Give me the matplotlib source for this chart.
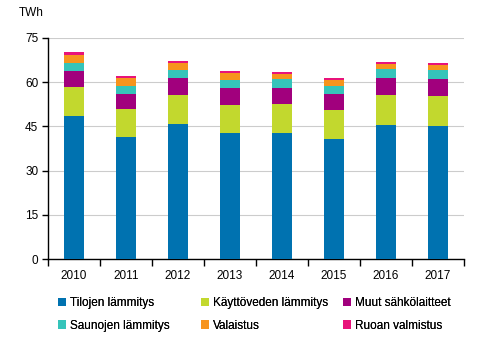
import numpy as np
import matplotlib.pyplot as plt

plt.rcParams['font.family'] = ['Liberation Sans', 'DejaVu Sans']

years = ['2010', '2011', '2012', '2013', '2014', '2015', '2016', '2017']
series = ['Tilojen lämmitys', 'Käyttöveden lämmitys', 'Muut sähkölaitteet',
          'Saunojen lämmitys', 'Valaistus', 'Ruoan valmistus']
tilat = [48.5, 41.4, 45.8, 42.8, 42.8, 40.7, 45.5, 45.1]
kayttovesi = [9.9, 9.5, 9.8, 9.5, 9.8, 9.9, 10.1, 10.2]
muut = [5.4, 5.1, 5.8, 5.7, 5.4, 5.4, 5.8, 5.8]
saunat = [2.7, 2.8, 2.8, 2.7, 3.1, 2.7, 3.1, 3.0]
valaistus = [2.7, 2.6, 2.3, 2.4, 1.7, 2.0, 1.7, 1.7]
ruoka = [1.0, 0.7, 0.7, 0.7, 0.7, 0.7, 0.6, 0.7]
colors = ['#0072b0', '#c2d82e', '#a1007d', '#35c4ba', '#f7941d', '#e8137a']

fig = plt.figure(figsize=(4.91, 3.40), dpi=100)
ax = fig.add_axes([48 / 491, 1 - 259 / 340, 416 / 491, 221 / 340])

x = np.arange(len(years))
bottom = np.zeros(len(years))
for vals, name, c in zip([tilat, kayttovesi, muut, saunat, valaistus, ruoka], series, colors):
    ax.bar(x, vals, 0.4, bottom=bottom, color=c, label=name, zorder=3)
    bottom += np.array(vals)

ax.set_xlim(-0.5, len(years) - 0.5)
ax.set_ylim(0, 75)
ax.set_yticks([0, 15, 30, 45, 60, 75])
ax.set_xticks(x)
ax.set_xticklabels(years)
ax.set_xticks(np.arange(-0.5, len(years)), minor=True)
ax.tick_params(axis='x', which='major', length=0, pad=8, labelsize=8.5)
ax.tick_params(axis='x', which='minor', length=5, width=1, direction='out')
ax.tick_params(axis='y', length=4, width=1, labelsize=8.5, pad=3)
ax.grid(axis='y', color='#cccccc', linewidth=0.8, zorder=0)
for s in ['top', 'right']:
    ax.spines[s].set_visible(False)
ax.spines['left'].set_linewidth(1)
ax.spines['bottom'].set_linewidth(1)
ax.text(-0.07, 1.1, 'TWh', transform=ax.transAxes, fontsize=8.5, ha='left')

# legend: three columns, row-major order, each column placed separately
handles, labels = ax.get_legend_handles_labels()
col_x = [58, 201, 343]
for i, cx in enumerate(col_x):
    leg = fig.legend([handles[i], handles[i + 3]], [labels[i], labels[i + 3]],
                     loc='upper left', bbox_to_anchor=(cx / 491, 1 - 297 / 340),
                     frameon=False, fontsize=8.5, handlelength=0.7, handleheight=0.7,
                     handletextpad=0.3, labelspacing=0.9, borderpad=0, borderaxespad=0)
    fig.add_artist(leg)

fig.savefig('out.png', dpi=100)
